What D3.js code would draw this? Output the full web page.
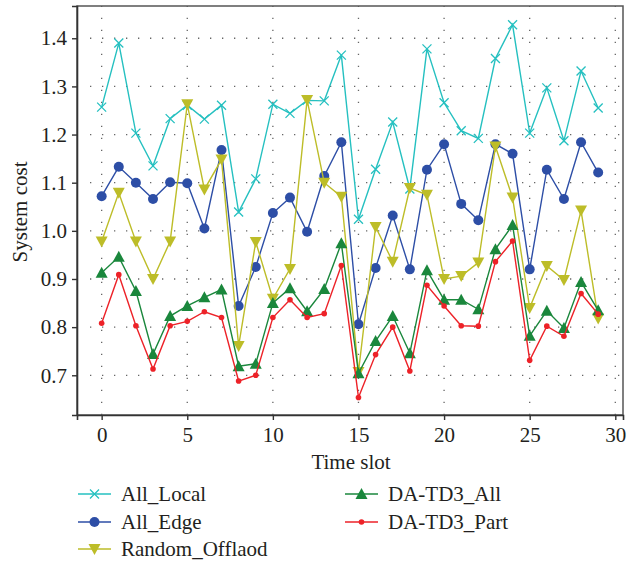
<!DOCTYPE html>
<html lang="en">
<head>
<meta charset="UTF-8">
<title>System cost</title>
<script src="https://d3js.org/d3.v7.min.js"></script>
<style>
  body { margin: 0; background: #fff; }
  text { font-family: "Liberation Serif", "DejaVu Serif", serif; fill: #231f20; }
</style>
</head>
<body>
<div id="chart"></div>
<script>
  const width = 639;
  const height = 563;

  const timeSlots = d3.range(0, 30);

  const allLocal = [1.257, 1.390, 1.203, 1.135, 1.233, 1.261, 1.232, 1.261, 1.039, 1.108,
                    1.263, 1.244, 1.271, 1.270, 1.365, 1.024, 1.128, 1.226, 1.087, 1.378,
                    1.266, 1.208, 1.192, 1.358, 1.428, 1.203, 1.297, 1.187, 1.332, 1.255];
  const allEdge = [1.072, 1.133, 1.100, 1.066, 1.101, 1.099, 1.005, 1.168, 0.844, 0.925,
                   1.037, 1.069, 0.998, 1.114, 1.184, 0.806, 0.923, 1.032, 0.920, 1.127,
                   1.180, 1.056, 1.022, 1.180, 1.160, 0.920, 1.127, 1.066, 1.184, 1.121];
  const randomOffload = [0.978, 1.079, 0.978, 0.900, 0.978, 1.263, 1.086, 1.148, 0.761, 0.977,
                         0.859, 0.921, 1.272, 1.100, 1.071, 0.707, 1.008, 0.936, 1.089, 1.075,
                         0.900, 0.906, 0.934, 1.175, 1.069, 0.840, 0.927, 0.898, 1.042, 0.818];
  const td3All = [0.913, 0.946, 0.875, 0.744, 0.823, 0.844, 0.862, 0.878, 0.719, 0.724,
                  0.850, 0.881, 0.833, 0.879, 0.974, 0.704, 0.771, 0.823, 0.746, 0.918,
                  0.857, 0.857, 0.837, 0.962, 1.012, 0.782, 0.834, 0.798, 0.894, 0.835];
  const td3Part = [0.808, 0.909, 0.803, 0.713, 0.803, 0.812, 0.832, 0.820, 0.688, 0.700,
                   0.820, 0.857, 0.820, 0.828, 0.928, 0.654, 0.743, 0.800, 0.709, 0.887,
                   0.844, 0.803, 0.802, 0.936, 0.979, 0.731, 0.802, 0.781, 0.870, 0.827];

  const xTicks = [0, 5, 10, 15, 20, 25, 30];
  const yTicks = [0.7, 0.8, 0.9, 1.0, 1.1, 1.2, 1.3, 1.4];

  const series = [
    { name: "All_Local", values: allLocal, color: "#25c0c0", marker: "cross" },
    { name: "All_Edge", values: allEdge, color: "#2d4ea6", marker: "circle" },
    { name: "Random_Offlaod", values: randomOffload, color: "#bdbd28", marker: "down" },
    { name: "DA-TD3_All", values: td3All, color: "#1a873c", marker: "up" },
    { name: "DA-TD3_Part", values: td3Part, color: "#ed2228", marker: "dot" }
  ];

  const plotLeft = 77, plotRight = 623, plotTop = 6, plotBottom = 415;
  const fontSize = 21;

  const x = d3.scaleLinear().domain([-1.44, 30.45]).range([plotLeft, plotRight]);
  const y = d3.scaleLinear().domain([0.6175, 1.467]).range([plotBottom, plotTop]);

  const svg = d3.select("#chart").append("svg")
    .attr("width", width)
    .attr("height", height);

  // dotted grid
  const grid = svg.append("g").attr("stroke", "#666").attr("stroke-width", 1.3)
    .attr("stroke-dasharray", "1.3,10.7");
  grid.selectAll(".vg").data(xTicks).join("line")
    .attr("x1", d => x(d)).attr("x2", d => x(d))
    .attr("y1", plotBottom).attr("y2", plotTop);
  grid.selectAll(".hg").data(yTicks).join("line")
    .attr("x1", plotLeft + 13).attr("x2", plotRight)
    .attr("y1", d => y(d)).attr("y2", d => y(d));

  // frame
  svg.append("rect")
    .attr("x", plotLeft).attr("y", plotTop)
    .attr("width", plotRight - plotLeft).attr("height", plotBottom - plotTop)
    .attr("fill", "none").attr("stroke", "#555").attr("stroke-width", 1.5);

  // axes
  const xAxis = svg.append("g").attr("transform", `translate(0,${plotBottom})`)
    .call(d3.axisBottom(x).tickValues(xTicks).tickSize(5).tickPadding(7).tickFormat(d3.format("d")));
  const yAxis = svg.append("g").attr("transform", `translate(${plotLeft},0)`)
    .call(d3.axisLeft(y).tickValues(yTicks).tickSize(5).tickPadding(5).tickFormat(d3.format(".1f")));
  [xAxis, yAxis].forEach(a => {
    a.select(".domain").attr("stroke", "#333").attr("stroke-width", 1.6);
    a.selectAll(".tick line").attr("stroke", "#333").attr("stroke-width", 1.4);
    a.selectAll(".tick text").attr("font-size", fontSize).attr("fill", "#231f20")
      .style("font-family", "Liberation Serif");
  });

  svg.append("text")
    .attr("x", 351).attr("y", 469)
    .attr("text-anchor", "middle").attr("font-size", fontSize)
    .text("Time slot");

  svg.append("text")
    .attr("transform", "translate(27,212) rotate(-90)")
    .attr("text-anchor", "middle").attr("font-size", fontSize)
    .text("System cost");

  function drawMarker(g, type, color) {
    if (type === "cross") {
      g.append("path").attr("d", "M-4.5,-4.5L4.5,4.5M-4.5,4.5L4.5,-4.5")
        .attr("stroke", color).attr("stroke-width", 1.3).attr("fill", "none");
    } else if (type === "circle") {
      g.append("circle").attr("r", 5).attr("fill", color);
    } else if (type === "down") {
      g.append("path").attr("d", "M-6,-5L6,-5L0,6Z").attr("fill", color);
    } else if (type === "up") {
      g.append("path").attr("d", "M-6,5L6,5L0,-6Z").attr("fill", color);
    } else {
      g.append("circle").attr("r", 2.8).attr("fill", color);
    }
  }

  const line = d3.line().x((d, i) => x(timeSlots[i])).y(d => y(d));

  series.forEach(s => {
    const g = svg.append("g");
    g.append("path").datum(s.values)
      .attr("d", line)
      .attr("fill", "none").attr("stroke", s.color).attr("stroke-width", 1.4);
    g.selectAll(".m").data(s.values).join("g")
      .attr("transform", (d, i) => `translate(${x(timeSlots[i])},${y(d)})`)
      .each(function () { drawMarker(d3.select(this), s.marker, s.color); });
  });

  // legend
  const legendPos = [
    [78, 494], [78, 522], [78, 549], [345, 494], [345, 522]
  ];
  series.forEach((s, i) => {
    const [lx, ly] = legendPos[i];
    const g = svg.append("g").attr("transform", `translate(${lx},${ly})`);
    g.append("line").attr("x1", 0).attr("x2", 33).attr("y1", 0).attr("y2", 0)
      .attr("stroke", s.color).attr("stroke-width", 1.4);
    drawMarker(g.append("g").attr("transform", "translate(16.5,0)"), s.marker, s.color);
    g.append("text").attr("x", 43).attr("y", 7).attr("font-size", fontSize).text(s.name);
  });
</script>
</body>
</html>
